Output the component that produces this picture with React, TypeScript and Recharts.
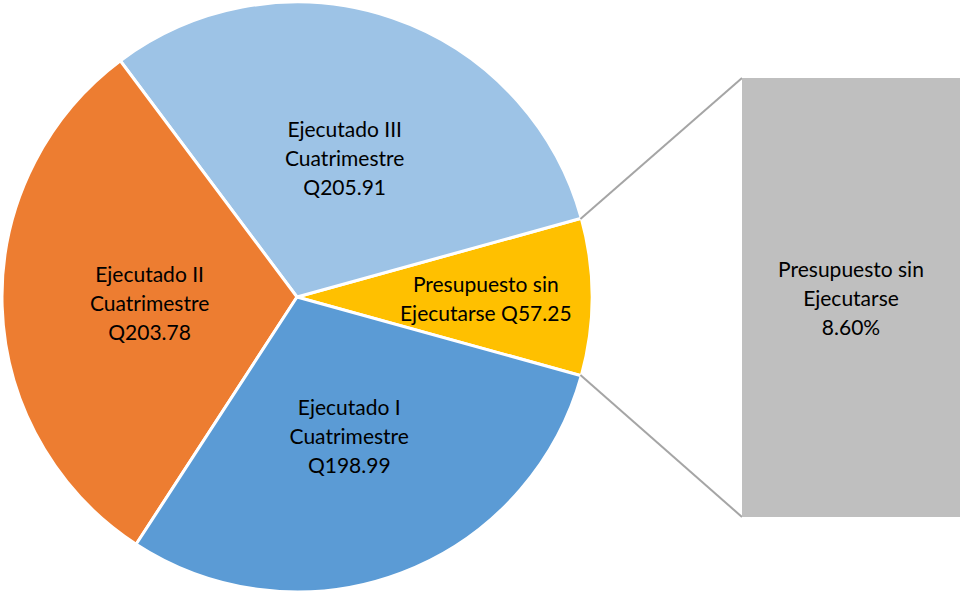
import { PieChart, Pie, Cell, BarChart, Bar, XAxis, YAxis, LabelList } from "recharts";

const categories = [
  ["Presupuesto sin", "Ejecutarse Q57.25"],
  ["Ejecutado III", "Cuatrimestre", "Q205.91"],
  ["Ejecutado II", "Cuatrimestre", "Q203.78"],
  ["Ejecutado I", "Cuatrimestre", "Q198.99"],
];
const values = [57.25, 205.91, 203.78, 198.99];
const colors = ["#FFC000", "#9DC3E6", "#ED7D31", "#5B9BD5"];

const barLabel = ["Presupuesto sin", "Ejecutarse", "8.60%"];
const barValues = [8.6];

const FONT = "Lato, 'Open Sans', sans-serif";
const W = 960;
const H = 591;
const CX = 297;
const CY = 297;
const R = 295;
const BAR_X = 742;
const BAR_Y = 78;
const BAR_W = 218;
const BAR_H = 439;

const total = values.reduce((a, b) => a + b, 0);
const half = (values[0] / total) * 180;

const data = values.map((v, i) => ({ name: categories[i].join(" "), value: v, lines: categories[i], color: colors[i] }));
const barData = barValues.map((v) => ({ name: "Presupuesto sin Ejecutarse", value: v }));

const SliceLabel = ({ cx, cy, midAngle, outerRadius, index }: any) => {
  const RADIAN = Math.PI / 180;
  const radius = outerRadius * (index === 0 ? 0.64 : 0.5);
  const x = cx + radius * Math.cos(-midAngle * RADIAN);
  const y = cy + radius * Math.sin(-midAngle * RADIAN);
  const lines: string[] = data[index].lines;
  const lh = 29;
  const y0 = y - ((lines.length - 1) * lh) / 2;
  return (
    <text x={x} y={y0} fill="#000" textAnchor="middle" dominantBaseline="central" fontSize={21} fontFamily={FONT}>
      {lines.map((l, i) => (
        <tspan key={i} x={x} y={y0 + i * lh} dominantBaseline="central">
          {l}
        </tspan>
      ))}
    </text>
  );
};

const BarText = ({ x, y, width, height }: any) => {
  const mx = x + width / 2;
  const my = y + height / 2;
  const lh = 29;
  const y0 = my - lh;
  return (
    <text textAnchor="middle" fontSize={21} fontFamily={FONT} fill="#000">
      {barLabel.map((l, i) => (
        <tspan key={i} x={mx} y={y0 + i * lh} dominantBaseline="central">
          {l}
        </tspan>
      ))}
    </text>
  );
};

// connector lines from the small slice's edges to the bar corners
const Connectors = () => {
  const RADIAN = Math.PI / 180;
  const ex = CX + (R - 3) * Math.cos(half * RADIAN);
  const ey1 = CY - (R - 3) * Math.sin(half * RADIAN);
  const ey2 = CY + (R - 3) * Math.sin(half * RADIAN);
  return (
    <svg width={W} height={H} style={{ position: "absolute", left: 0, top: 0, pointerEvents: "none" }}>
      <line x1={ex + 2} y1={ey1} x2={BAR_X} y2={BAR_Y} stroke="#A5A5A5" strokeWidth={2} />
      <line x1={ex + 2} y1={ey2} x2={BAR_X} y2={BAR_Y + BAR_H} stroke="#A5A5A5" strokeWidth={2} />
    </svg>
  );
};

export default function App() {
  return (
    <div style={{ position: "absolute", left: 0, top: 0, width: W, height: H, background: "#fff" }}>
      <PieChart width={W} height={H} margin={{ top: 0, right: 0, bottom: 0, left: 0 }}>
        <Pie
          data={data}
          dataKey="value"
          cx={CX}
          cy={CY}
          outerRadius={R}
          startAngle={-half}
          endAngle={360 - half}
          stroke="#fff"
          strokeWidth={3}
          labelLine={false}
          label={SliceLabel}
          isAnimationActive={false}
        >
          {data.map((d, i) => (
            <Cell key={`cell-${i}`} fill={d.color} />
          ))}
        </Pie>
      </PieChart>
      <Connectors />
      <div style={{ position: "absolute", left: BAR_X, top: BAR_Y }}>
        <BarChart width={BAR_W} height={BAR_H} data={barData} margin={{ top: 0, right: 0, bottom: 0, left: 0 }} barCategoryGap={0}>
          <XAxis dataKey="name" hide />
          <YAxis hide domain={[0, barValues[0]]} />
          <Bar dataKey="value" fill="#BFBFBF" isAnimationActive={false}>
            <LabelList content={BarText} />
          </Bar>
        </BarChart>
      </div>
    </div>
  );
}
